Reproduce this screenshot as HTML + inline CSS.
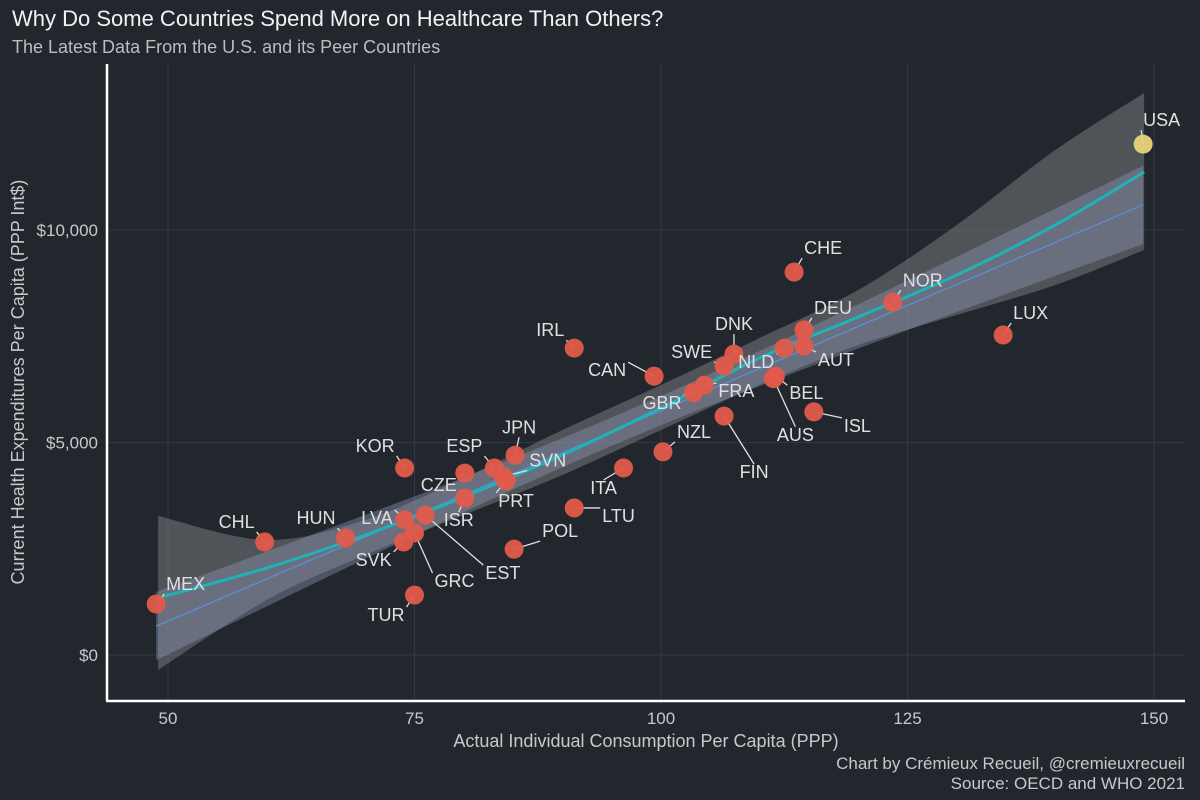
<!DOCTYPE html>
<html><head><meta charset="utf-8">
<style>
body{margin:0;background:#22272e;}
svg{display:block;font-family:"Liberation Sans",sans-serif;}
</style></head>
<body>
<svg id="chart" width="1200" height="800" xmlns="http://www.w3.org/2000/svg">
<rect width="1200" height="800" fill="#22272e"/>
<text x="12" y="26" font-size="22" fill="#f2f2f2">Why Do Some Countries Spend More on Healthcare Than Others?</text>
<text x="12" y="53" font-size="18" fill="#bdbdbd">The Latest Data From the U.S. and its Peer Countries</text>
<g id="grid"></g>
<g id="bands"></g>
<g id="marks"></g>
<line x1="107" y1="64" x2="107" y2="701" stroke="#fff" stroke-width="2.5"/>
<line x1="106" y1="701" x2="1185" y2="701" stroke="#fff" stroke-width="2.5"/>
<g id="ticks"></g>
<text x="646" y="747" font-size="18" fill="#c8c8c8" text-anchor="middle">Actual Individual Consumption Per Capita (PPP)</text>
<text transform="translate(24,382) rotate(-90)" font-size="18" fill="#c8c8c8" text-anchor="middle">Current Health Expenditures Per Capita (PPP Int$)</text>
<text x="1185" y="769" font-size="17" fill="#c8c8c8" text-anchor="end">Chart by Crémieux Recueil, @cremieuxrecueil</text>
<text x="1185" y="789" font-size="17" fill="#c8c8c8" text-anchor="end">Source: OECD and WHO 2021</text>
</svg>
<script>
const countries=["MEX","CHL","HUN","KOR","CZE","ESP","JPN","SVN","PRT","ISR","LVA","EST","GRC","SVK","TUR","POL","LTU","ITA","NZL","IRL","CAN","GBR","FRA","SWE","DNK","FIN","NLD","AUS","BEL","DEU","AUT","CHE","ISL","NOR","LUX","USA"];
const aic=[48.8,59.8,68.0,74.0,80.1,83.1,85.2,84.0,84.3,80.1,74.0,76.1,75.0,73.9,75.0,85.1,91.2,96.2,100.2,91.2,99.3,103.3,104.4,106.4,107.4,106.4,112.5,111.4,111.6,114.5,114.5,113.5,115.5,123.5,134.7,148.9];
const che=[1200,2660,2750,4400,4280,4400,4700,4200,4100,3690,3180,3290,2870,2660,1410,2490,3460,4400,4780,7220,6560,6170,6350,6800,7080,5620,7220,6500,6560,7650,7270,9010,5720,8300,7530,12020];
const loessX=[49,60,70,80,90,100,110,120,130,140,149];
const loessFit=[1341,2047,2824,3718,4706,5812,6988,7953,8941,10118,11365];
const loessHi=[3271,2706,3176,4165,5294,6353,7459,8588,10118,11882,13224];
const loessLo=[-353,1294,2353,3294,4235,5294,6353,7294,8000,8706,9529];
const xTicks=[50,75,100,125,150];
const yTicks=[0,5000,10000];
const yTickLabels=["$0","$5,000","$10,000"];
const off={MEX:[10,-14,"start"],CHL:[-10,-14,"end"],HUN:[-10,-14,"end"],KOR:[-10,-16,"end"],CZE:[-8,18,"end"],ESP:[-12,-16,"end"],JPN:[4,-22,"middle"],SVN:[26,-10,"start"],PRT:[-8,26,"start"],ISR:[-6,28,"middle"],LVA:[-12,4,"end"],EST:[60,64,"start"],GRC:[20,54,"start"],SVK:[-12,24,"end"],TUR:[-10,26,"end"],POL:[28,-12,"start"],LTU:[28,14,"start"],ITA:[-20,26,"middle"],NZL:[14,-14,"start"],IRL:[-10,-12,"end"],CAN:[-28,0,"end"],GBR:[-12,16,"end"],FRA:[14,12,"start"],SWE:[-12,-8,"end"],DNK:[0,-24,"middle"],FIN:[30,62,"middle"],NLD:[-10,20,"end"],AUS:[22,62,"middle"],BEL:[14,23,"start"],DEU:[10,-16,"start"],AUT:[14,20,"start"],CHE:[10,-18,"start"],ISL:[30,20,"start"],NOR:[10,-16,"start"],LUX:[10,-16,"start"],USA:[0,-18,"start"]};
const NS="http://www.w3.org/2000/svg";
const sx=v=>168+(v-50)*9.86;
const sy=v=>655-v*0.0425;
function mk(tag,attrs,parent){const e=document.createElementNS(NS,tag);for(const k in attrs)e.setAttribute(k,attrs[k]);document.getElementById(parent).appendChild(e);return e;}
function smooth(pts,start){let p=(start?"M":" L")+pts[0][0]+","+pts[0][1];
 for(let i=0;i<pts.length-1;i++){const p0=pts[Math.max(0,i-1)],p1=pts[i],p2=pts[i+1],p3=pts[Math.min(pts.length-1,i+2)];
  p+=" C"+(p1[0]+(p2[0]-p0[0])/6)+","+(p1[1]+(p2[1]-p0[1])/6)+" "+(p2[0]-(p3[0]-p1[0])/6)+","+(p2[1]-(p3[1]-p1[1])/6)+" "+p2[0]+","+p2[1];}
 return p;}
[37.5,62.5,87.5,112.5,137.5].forEach(v=>{const l=mk("line",{x1:sx(v),x2:sx(v),y1:64,y2:700,stroke:"#262b33","stroke-width":1},"grid");});
[-2500,2500,7500,12500].forEach(v=>{const l=mk("line",{x1:108,x2:1185,y1:sy(v),y2:sy(v),stroke:"#262b33","stroke-width":1},"grid");});
xTicks.forEach(v=>{const l=mk("line",{x1:sx(v),x2:sx(v),y1:64,y2:700,stroke:"#323841","stroke-width":1},"grid");
 const t=mk("text",{x:sx(v),y:724,"font-size":17,fill:"#c8c8c8","text-anchor":"middle"},"ticks");t.textContent=v;});
yTicks.forEach((v,i)=>{const l=mk("line",{x1:108,x2:1185,y1:sy(v),y2:sy(v),stroke:"#323841","stroke-width":1},"grid");
 const t=mk("text",{x:98,y:sy(v)+6,"font-size":17,fill:"#c8c8c8","text-anchor":"end"},"ticks");t.textContent=yTickLabels[i];});
const hiPts=loessX.map((x,i)=>[sx(x),sy(loessHi[i])]);
const loPts=loessX.map((x,i)=>[sx(x),sy(loessLo[i])]).reverse();
let d=smooth(hiPts,true)+smooth(loPts,false)+"Z";
const lb=mk("path",{d:d,fill:"#8a8a8a","fill-opacity":0.45},"bands");
const n=aic.length,xm=aic.reduce((a,b)=>a+b)/n,ym=che.reduce((a,b)=>a+b)/n;
let sxx=0,sxy=0;for(let i=0;i<n;i++){sxx+=(aic[i]-xm)**2;sxy+=(aic[i]-xm)*(che[i]-ym);}
const b=sxy/sxx,a=ym-b*xm;let sse=0;for(let i=0;i<n;i++)sse+=(che[i]-a-b*aic[i])**2;
const s=Math.sqrt(sse/(n-2));
const xs=[];for(let x=48.8;x<=148.9;x+=2)xs.push(x);xs.push(148.9);
const se=x=>2.03*s*Math.sqrt(1/n+(x-xm)**2/sxx);
d="M"+xs.map(x=>sx(x)+","+sy(a+b*x+se(x))).join(" L")+" L"+xs.slice().reverse().map(x=>sx(x)+","+sy(a+b*x-se(x))).join(" L")+"Z";
const linb=mk("path",{d:d,fill:"#8f9ab8","fill-opacity":0.4},"bands");
const ll=mk("line",{x1:sx(48.8),y1:sy(a+b*48.8),x2:sx(148.9),y2:sy(a+b*148.9),stroke:"#5b8fd6","stroke-width":1.3},"bands");
const pts=loessX.map((x,i)=>[sx(x),sy(loessFit[i])]);
const lo=mk("path",{d:smooth(pts,true),fill:"none",stroke:"#1fb3b8","stroke-width":3},"bands");
countries.forEach((c,i)=>{const x=sx(aic[i]),y=sy(che[i]);const o=off[c];
 const tx=x+o[0],ty=y+o[1];
 const seg=mk("line",{x1:x,y1:y,x2:tx+(o[2]=="end"?2:o[2]=="start"?-2:0),y2:ty+(o[1]<0?4:-14),stroke:"#e0e0e0","stroke-width":1.3},"marks");
});
countries.forEach((c,i)=>{const x=sx(aic[i]),y=sy(che[i]);
 const pt=mk("circle",{cx:x,cy:y,r:9.5,fill:c=="USA"?"#e9d27a":"#e25a4b","fill-opacity":0.95},"marks");});
countries.forEach((c,i)=>{const x=sx(aic[i]),y=sy(che[i]);const o=off[c];
 const t=mk("text",{x:x+o[0],y:y+o[1],"font-size":18,fill:"#e0e0e0","text-anchor":o[2]},"marks");t.textContent=c;});
</script>
</body></html>
